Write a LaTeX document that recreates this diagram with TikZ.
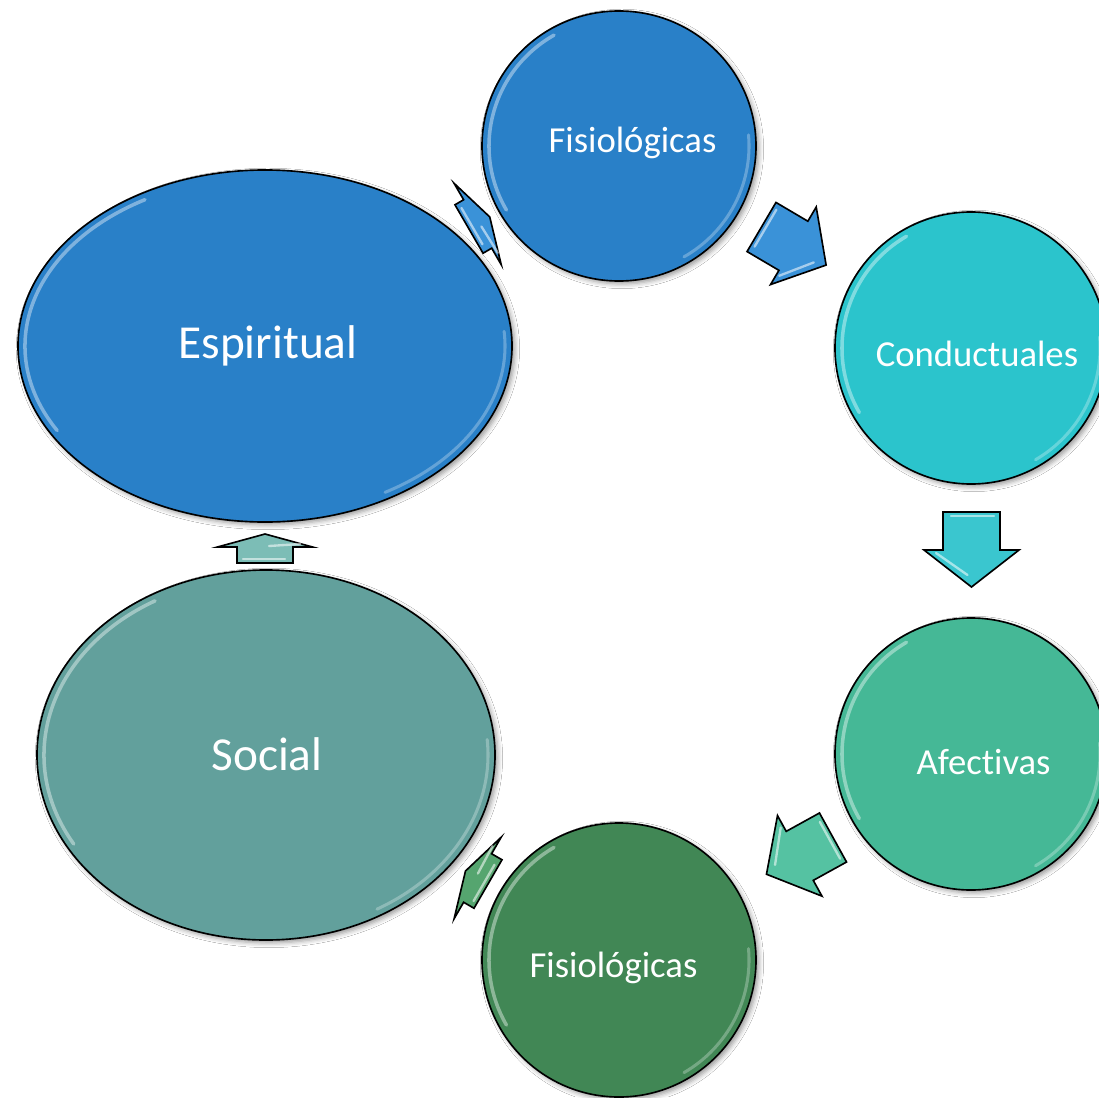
\documentclass[tikz,border=0pt]{standalone}
\usepackage{fontspec}
\setmainfont[Ligatures=NoCommon]{Carlito}
\usetikzlibrary{shapes.geometric,shadows.blur,calc}

\definecolor{cBlue}{HTML}{2980C8}
\definecolor{cCyan}{HTML}{2BC4CC}
\definecolor{cMint}{HTML}{45B896}
\definecolor{cGreen}{HTML}{418755}
\definecolor{cTeal}{HTML}{62A09C}
\definecolor{aBlue}{HTML}{3A92D8}
\definecolor{aCyan}{HTML}{3AC6CF}
\definecolor{aMint}{HTML}{55C2A2}
\definecolor{aGreen}{HTML}{55A56F}
\definecolor{aTeal}{HTML}{7CBDB6}

\tikzset{
  bubble/.style={ellipse, draw=black, line width=1.4pt, inner sep=0pt,
    blur shadow={shadow xshift=2.5pt, shadow yshift=-2.5pt,
                 shadow blur radius=4pt, shadow opacity=40}},
  small/.style={text=white, inner sep=0pt, font=\fontsize{31.3}{36}\selectfont},
  big/.style={text=white, inner sep=0pt, font=\fontsize{40.4}{46}\selectfont},
  rim/.style={white, opacity=0.4, line width=3pt, line cap=round},
  rimsoft/.style={white, opacity=0.28, line width=2.6pt, line cap=round},
  flow/.style={draw=black, line width=1.4pt, line join=miter},
  gloss/.style={white, opacity=0.55, line width=2pt, line cap=round},
}

% glossy rims inside a bubble: #1 node, #2 x radius, #3 y radius
\newcommand\bubblerims[3]{%
  \draw[rim] ($(#1.center)+(120:{#2-7} and {#3-7})$)
    arc[start angle=120, end angle=210, x radius={#2-7}, y radius={#3-7}];
  \draw[rimsoft] ($(#1.center)+(-60:{#2-7} and {#3-7})$)
    arc[start angle=-60, end angle=5, x radius={#2-7}, y radius={#3-7}];
}

% block arrow: #1 tail centre, #2 rotation, #3 head base, #4 length,
% #5 shaft half width, #6 head half width, #7 fill colour
\newcommand\flowarrow[7]{%
  \begin{scope}[shift={#1}, rotate=#2]
    \draw[flow, fill=#7] (0,-#5) -- (#3,-#5) -- (#3,-#6) -- (#4,0)
      -- (#3,#6) -- (#3,#5) -- (0,#5) -- cycle;
    \draw[gloss] (4,{#5-6}) -- (4,{-#5+8});
    \draw[gloss] ({#3+3},{-#6+12}) -- ({#4-12},-4);
  \end{scope}}

\begin{document}
\begin{tikzpicture}[x=0.03cm, y=0.03cm]
  \useasboundingbox (0,0) rectangle (1099,-1097);
  \clip (0,0) rectangle (1099,-1097);
  \fill[white] (0,0) rectangle (1099,-1097);

  % bubbles
  \node[bubble, fill=cBlue, minimum width=14.82cm, minimum height=10.56cm] (esp) at (265,-346) {};
  \node[bubble, fill=cTeal, minimum width=13.74cm, minimum height=11.1cm] (soc) at (266,-755) {};
  \node[bubble, fill=cBlue, minimum width=8.22cm, minimum height=8.1cm] (fisA) at (619,-146) {};
  \node[bubble, fill=cCyan, minimum width=8.16cm, minimum height=8.16cm] (cond) at (971,-348) {};
  \node[bubble, fill=cMint, minimum width=8.16cm, minimum height=8.16cm] (afec) at (971,-754) {};
  \node[bubble, fill=cGreen, minimum width=8.22cm, minimum height=8.22cm] (fisB) at (619,-960) {};

  \bubblerims{esp}{247}{176}
  \bubblerims{soc}{229}{185}
  \bubblerims{fisA}{137}{135}
  \bubblerims{cond}{136}{136}
  \bubblerims{afec}{136}{136}
  \bubblerims{fisB}{137}{137}

  % labels
  \node[small] (fisAt) at (632.5,-143) {Fisiológicas};
  \node[small] (condt) at (977,-354) {Conductuales};
  \node[small] (afect) at (983.5,-762) {Afectivas};
  \node[small] (fisBt) at (613.5,-968) {Fisiológicas};
  \node[big] (soct) at (267,-754) {Social};
  \node[big] (espt) at (268,-346) {Espiritual};

  % arrows of the cycle
  \flowarrow{(469,-229)}{30.1}{10}{24}{28}{47}{aBlue}
  \flowarrow{(761.5,-227)}{-30.5}{37}{75}{28.5}{45}{aBlue}
  \flowarrow{(971.5,-512)}{-90}{38}{75}{28.5}{47.5}{aCyan}
  \flowarrow{(833,-837.5)}{-151.1}{38}{76}{28}{46}{aMint}
  \flowarrow{(488,-884)}{150}{12}{26}{28}{47}{aGreen}
  \flowarrow{(265,-563)}{90}{16}{29}{28}{47.5}{aTeal}
\end{tikzpicture}
\end{document}
